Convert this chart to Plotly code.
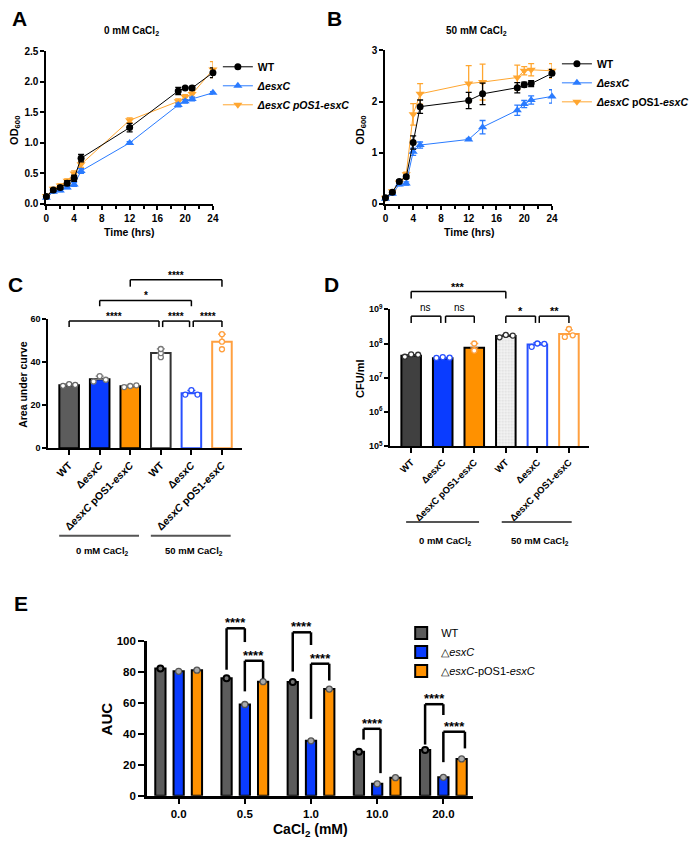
import numpy as np
import plotly.graph_objects as go

W, H = 695, 848
FONT = "Liberation Sans, Arial, Helvetica, sans-serif"

# ---------------- data ----------------
# Panel A: 0 mM CaCl2 growth curves
time_a = [0, 1, 2, 3, 4, 5, 12, 19, 20, 21, 24]
wt_a = [0.12, 0.23, 0.27, 0.34, 0.42, 0.75, 1.25, 1.85, 1.90, 1.90, 2.15]
wt_a_err = [0.02, 0.02, 0.03, 0.04, 0.05, 0.06, 0.07, 0.06, 0.02, 0.03, 0.08]
dex_a = [0.10, 0.20, 0.22, 0.27, 0.32, 0.54, 1.00, 1.62, 1.68, 1.72, 1.82]
dex_a_err = [0.01, 0.02, 0.02, 0.02, 0.03, 0.04, 0.02, 0.03, 0.03, 0.03, 0.02]
comp_a = [0.13, 0.25, 0.30, 0.38, 0.50, 0.65, 1.37, 1.68, 1.75, 1.80, 2.20]
comp_a_err = [0.01, 0.02, 0.03, 0.03, 0.04, 0.05, 0.04, 0.04, 0.04, 0.05, 0.13]

# Panel B: 50 mM CaCl2 growth curves
time_b = [0, 1, 2, 3, 4, 5, 12, 14, 19, 20, 21, 24]
wt_b = [0.12, 0.23, 0.44, 0.53, 1.20, 1.90, 2.02, 2.15, 2.27, 2.33, 2.35, 2.55]
wt_b_err = [0.01, 0.02, 0.03, 0.03, 0.13, 0.13, 0.16, 0.21, 0.10, 0.05, 0.06, 0.08]
dex_b = [0.10, 0.20, 0.38, 0.40, 1.02, 1.15, 1.26, 1.50, 1.83, 1.95, 2.03, 2.10]
dex_b_err = [0.01, 0.02, 0.02, 0.03, 0.07, 0.06, 0.02, 0.13, 0.10, 0.07, 0.08, 0.13]
comp_b = [0.12, 0.25, 0.42, 0.58, 1.75, 2.15, 2.35, 2.38, 2.47, 2.60, 2.62, 2.60]
comp_b_err = [0.01, 0.02, 0.03, 0.04, 0.21, 0.20, 0.35, 0.35, 0.24, 0.08, 0.12, 0.14]

# Panel C: area under curve
c_ticktext = ["WT", "Δ<i>esxC</i>", "Δ<i>esxC</i> pOS1-<i>esxC</i>",
              "WT", "Δ<i>esxC</i>", "Δ<i>esxC</i> pOS1-<i>esxC</i>"]
c_mean = [29.3, 32.0, 28.8, 44.2, 25.5, 49.5]
c_sd = [0.6, 1.5, 0.5, 2.0, 1.3, 3.5]
c_pts = [[29.0, 29.8, 29.4], [31.0, 33.5, 31.8], [28.4, 28.9, 29.2],
         [42.3, 44.2, 46.1], [24.9, 27.0, 24.9], [46.0, 49.5, 53.0]]

# Panel D: CFU/ml
d_ticktext = ["WT", "ΔesxC", "ΔesxC pOS1-esxC", "WT", "ΔesxC", "ΔesxC pOS1-esxC"]
d_mean = [4.4e7, 3.7e7, 7.5e7, 1.66e8, 9.4e7, 1.9e8]
d_sd = [3e6, 2e6, 2.5e7, 1.2e7, 1.2e7, 6.0e7]
d_pts = [[4.1e7, 4.8e7, 4.7e7], [3.8e7, 4.0e7, 3.85e7], [1.0e8, 6.3e7, 6.2e7],
         [1.52e8, 1.78e8, 1.70e8], [8.0e7, 1.0e8, 9.8e7], [2.65e8, 1.56e8, 1.74e8]]
group_labels = ["0 mM CaCl<sub>2</sub>", "50 mM CaCl<sub>2</sub>"]

# Panel E: AUC vs CaCl2
cacl2 = ["0.0", "0.5", "1.0", "10.0", "20.0"]
e_wt = [82.3, 76.0, 73.6, 28.5, 29.6]
e_dex = [80.5, 59.0, 35.5, 7.7, 11.9]
e_comp = [81.2, 73.8, 69.0, 11.7, 23.8]

# ---------------- helpers ----------------
def px_x(p):
    return p / W


def px_y(p):
    return 1 - p / H


def tf(size=10, bold=True):
    return dict(family=FONT, size=size, color="black", weight="bold" if bold else "normal")


def axis(domain, **kw):
    d = dict(domain=domain, showgrid=False, zeroline=False, showline=True,
             linecolor="black", linewidth=2, ticks="outside", ticklen=4,
             tickwidth=2, tickcolor="black", tickfont=tf(10))
    d.update(kw)
    return d


fig = go.Figure()
shapes = []
annots = []

BLUE_L = "#2a7bff"
ORANGE_L = "#ffa630"


def growth(xa, ya, leg, t, wt, wte, dx_, dxe, cp, cpe, comp_name):
    specs = [(comp_name, cp, cpe, ORANGE_L, "triangle-down", 8, 3),
             ("<i>ΔesxC</i>", dx_, dxe, BLUE_L, "triangle-up", 8, 2),
             ("WT", wt, wte, "black", "circle", 7, 1)]
    for name, y, e, c, sym, sz, rank in specs:
        fig.add_trace(go.Scatter(
            x=t, y=y, mode="lines+markers",
            error_y=dict(type="data", array=e, color=c, thickness=1.3, width=3),
            line=dict(color=c, width=1), marker=dict(symbol=sym, size=sz, color=c),
            name=name, legend=leg, legendrank=rank, xaxis=xa, yaxis=ya,
            cliponaxis=False))


growth("x", "y", "legend", time_a, wt_a, wt_a_err, dex_a, dex_a_err, comp_a, comp_a_err,
       "<i>ΔesxC pOS1-esxC</i>")
growth("x2", "y2", "legend2", time_b, wt_b, wt_b_err, dex_b, dex_b_err, comp_b, comp_b_err,
       "<i>ΔesxC</i> pOS1-<i>esxC</i>")

# ---- Panel C ----
C_XR = [-0.68, 5.64]
C_YR = [0, 60]
c_fill = ["#5c5c5c", "#0a3cff", "#ff9100", "white", "white", "white"]
c_edge = ["black", "black", "black", "#333333", "#2850ff", "#ffa040"]
c_ptc = ["#666666", "#777777", "#777777", "#777777", "#2850ff", "#ffa040"]
c_off = [[-0.2, 0.0, 0.2], [-0.2, 0.0, 0.2], [-0.2, 0.0, 0.2],
         [0.0, 0.0, 0.0], [-0.2, 0.0, 0.2], [0.0, 0.0, 0.0]]
for i in range(6):
    fig.add_trace(go.Bar(
        x=[i], y=[c_mean[i]], width=0.64,
        marker=dict(color=c_fill[i], line=dict(color=c_edge[i], width=2)),
        error_y=dict(type="data", symmetric=False, array=[c_sd[i]], arrayminus=[0],
                     color=c_ptc[i], thickness=1.3, width=4),
        xaxis="x3", yaxis="y3", showlegend=False))
    fig.add_trace(go.Scatter(
        x=[i + o for o in c_off[i]], y=c_pts[i], mode="markers",
        marker=dict(symbol="circle", size=5, color="white",
                    line=dict(color=c_ptc[i], width=1.3)),
        xaxis="x3", yaxis="y3", showlegend=False, cliponaxis=False))

# ---- Panel D ----
D_XR = [-0.66, 5.65]
D_YR = [5, 9]
d_fill = ["#404040", "#0a3cff", "#ff9100", "#f3f3f3", "white", "white"]
d_edge = ["black", "black", "black", "black", "#2850ff", "#ffa040"]
d_ptc = ["#333333", "#2850ff", "#ffa040", "#333333", "#2850ff", "#ffa040"]
d_off = [[-0.2, 0.0, 0.22], [-0.2, 0.0, 0.22], [0.0, 0.0, 0.0],
         [-0.2, 0.0, 0.22], [-0.18, 0.0, 0.22], [0.0, -0.13, 0.12]]
for i in range(6):
    mk = dict(color=d_fill[i], line=dict(color=d_edge[i], width=2))
    if i == 3:
        mk["pattern"] = dict(shape=".", fgcolor="#c4c4c4", bgcolor="#f4f4f4", size=3, solidity=0.35)
    fig.add_trace(go.Bar(
        x=[i], y=[d_mean[i]], width=0.62, marker=mk,
        error_y=dict(type="data", symmetric=False, array=[d_sd[i]], arrayminus=[0],
                     color=d_ptc[i], thickness=1.3, width=4),
        xaxis="x4", yaxis="y4", showlegend=False))
    fig.add_trace(go.Scatter(
        x=[i + o for o in d_off[i]], y=d_pts[i], mode="markers",
        marker=dict(symbol="circle", size=5, color="white",
                    line=dict(color=d_ptc[i], width=1.3)),
        xaxis="x4", yaxis="y4", showlegend=False, cliponaxis=False))

# ---- Panel E ----
E_XR = [-0.48, 4.45]
E_YR = [0, 100]
SLOT = 0.276
BW = 0.155
e_specs = [("WT", e_wt, "#5c5c5c", "black", "#777777", 2),
           ("△<i>esxC</i>", e_dex, "#0a3cff", "#555555", "#aaaaaa", 1.3),
           ("△<i>esxC</i>-pOS1-<i>esxC</i>", e_comp, "#ff9100", "#555555", "#aaaaaa", 1.3)]
for k, (name, vals, col, ptl, ptf, plw) in enumerate(e_specs):
    fig.add_trace(go.Bar(
        x=list(range(len(cacl2))), y=vals, width=BW, offset=(k - 1) * SLOT - BW / 2,
        marker=dict(color=col, line=dict(color="black", width=2)),
        name=name, legend="legend3", legendrank=k + 1, xaxis="x5", yaxis="y5"))
for k, (name, vals, col, ptl, ptf, plw) in enumerate(e_specs):
    fig.add_trace(go.Scatter(
        x=[i + (k - 1) * SLOT for i in range(len(cacl2))], y=vals, mode="markers",
        marker=dict(symbol="circle", size=6, color=ptf, line=dict(color=ptl, width=plw)),
        xaxis="x5", yaxis="y5", showlegend=False, cliponaxis=False))

# ---------------- brackets ----------------
def dom(v, r):
    return (v - r[0]) / (r[1] - r[0])


def bracket(xa, ya, xr, yr, x0, x1, ytop, yl, yrr, text, size, width, bold=True, ylog=False, tshift=3):
    f = (lambda v: dom(np.log10(v), yr)) if ylog else (lambda v: dom(v, yr))
    X0, X1 = dom(x0, xr), dom(x1, xr)
    T, L, R = f(ytop), f(yl), f(yrr)
    for (a, b, c, d) in [(X0, L, X0, T), (X0, T, X1, T), (X1, T, X1, R)]:
        shapes.append(dict(type="line", xref=xa + " domain", yref=ya + " domain",
                           x0=a, y0=b, x1=c, y1=d, line=dict(color="black", width=width)))
    annots.append(dict(text=text, xref=xa + " domain", yref=ya + " domain",
                       x=(X0 + X1) / 2, y=T, yanchor="bottom", xanchor="center",
                       yshift=-tshift if text.startswith("*") else 1,
                       showarrow=False, font=tf(size, bold)))


# C brackets (data units)
bracket("x3", "y3", C_XR, C_YR, 0, 2.94, 59.1, 56.3, 56.3, "****", 10, 1.5)
bracket("x3", "y3", C_XR, C_YR, 3.06, 3.94, 59.1, 56.3, 56.3, "****", 10, 1.5)
bracket("x3", "y3", C_XR, C_YR, 4.06, 5.0, 59.1, 56.3, 56.3, "****", 10, 1.5)
bracket("x3", "y3", C_XR, C_YR, 1.0, 4.0, 68.7, 66.0, 66.0, "*", 10, 1.5)
bracket("x3", "y3", C_XR, C_YR, 2.0, 5.0, 78.3, 75.1, 75.1, "****", 10, 1.5)

# D brackets (CFU/ml)
bracket("x4", "y4", D_XR, D_YR, 0, 3.0, 3.3e9, 2.07e9, 2.07e9, "***", 11, 1.5, ylog=True)
bracket("x4", "y4", D_XR, D_YR, 0, 0.94, 6.3e8, 4.0e8, 4.0e8, "ns", 10, 1.5, bold=False, ylog=True)
bracket("x4", "y4", D_XR, D_YR, 1.09, 2.0, 6.3e8, 4.0e8, 4.0e8, "ns", 10, 1.5, bold=False, ylog=True)
bracket("x4", "y4", D_XR, D_YR, 3.0, 3.94, 6.3e8, 4.0e8, 4.0e8, "*", 11, 1.5, ylog=True)
bracket("x4", "y4", D_XR, D_YR, 4.06, 5.0, 6.3e8, 4.0e8, 4.0e8, "**", 11, 1.5, ylog=True)

# E brackets
bracket("x5", "y5", E_XR, E_YR, 1 - SLOT, 1.0, 108.3, 81.5, 99.4, "****", 13, 2.5, tshift=4)
bracket("x5", "y5", E_XR, E_YR, 1.0, 1 + SLOT, 87.3, 67.5, 75.8, "****", 13, 2.5, tshift=4)
bracket("x5", "y5", E_XR, E_YR, 2 - SLOT, 2.0, 105.7, 80.3, 97.5, "****", 13, 2.5, tshift=4)
bracket("x5", "y5", E_XR, E_YR, 2.0, 2 + SLOT, 85.4, 49.7, 74.5, "****", 13, 2.5, tshift=4)
bracket("x5", "y5", E_XR, E_YR, 3 - SLOT + 0.07, 3.05, 43.3, 36.3, 14.6, "****", 13, 2.5, tshift=4)
bracket("x5", "y5", E_XR, E_YR, 4 - SLOT, 4.0, 59.2, 33.1, 52.2, "****", 13, 2.5, tshift=4)
bracket("x5", "y5", E_XR, E_YR, 4.0, 4 + SLOT + 0.05, 41.4, 21.7, 30.6, "****", 13, 2.5, tshift=4)

# group underlines for C and D
for (x0, x1, y, lab, ty) in [(57, 138, 537, group_labels[0], 552), (150, 231, 537, group_labels[1], 552),
                             (409, 483, 523, group_labels[0], 542), (506, 577, 523, group_labels[1], 542)]:
    shapes.append(dict(type="line", xref="paper", yref="paper", x0=px_x(x0), x1=px_x(x1),
                       y0=px_y(y), y1=px_y(y), line=dict(color="#555555", width=2)))
    annots.append(dict(text=lab, xref="paper", yref="paper", x=px_x((x0 + x1) / 2 + 3), y=px_y(ty),
                       xanchor="center", yanchor="middle",
                       showarrow=False, font=tf(9.5)))

# panel letters, titles, axis titles
def txt(t, x, y, size, bold=True, angle=0):
    annots.append(dict(text=t, xref="paper", yref="paper", x=px_x(x), y=px_y(y),
                       xanchor="center", yanchor="middle", showarrow=False,
                       textangle=angle, font=tf(size, bold)))


txt("A", 17, 12, 21)
txt("B", 336, 12, 21)
txt("C", 13, 282, 21)
txt("D", 333, 282, 21)
txt("E", 18, 606, 21)
txt("0 mM CaCl<sub>2</sub>", 130, 24, 10)
txt("50 mM CaCl<sub>2</sub>", 480, 24, 10)
txt("OD<sub>600</sub>", 12, 125, 11, angle=-90)
txt("OD<sub>600</sub>", 363, 125, 11, angle=-90)
txt("Time (hrs)", 128, 229, 10.5)
txt("Time (hrs)", 473, 229, 10.5)
txt("Area under curve", 20, 383, 10.5, angle=-90)
txt("CFU/ml", 362, 377, 11, angle=-90)
txt("AUC", 105, 723, 15, angle=-90)
txt("CaCl<sub>2</sub> (mM)", 312, 836, 14)

layout = dict(
    width=W, height=H, margin=dict(l=0, r=0, t=0, b=0),
    paper_bgcolor="white", plot_bgcolor="white", barmode="overlay",
    font=dict(family=FONT, color="black"),
    xaxis=axis([px_x(44), px_x(213)], range=[0, 24], tickvals=list(range(0, 25, 4)),
               anchor="y", minor=dict(dtick=2, tick0=0, ticks="outside", ticklen=3,
                                      tickwidth=1.5, tickcolor="black")),
    yaxis=axis([px_y(200), px_y(45)], range=[0, 2.5], dtick=0.5, tickformat=".1f", anchor="x"),
    xaxis2=axis([px_x(388), px_x(557)], range=[0, 24], tickvals=list(range(0, 25, 4)),
                anchor="y2", minor=dict(dtick=2, tick0=0, ticks="outside", ticklen=3,
                                        tickwidth=1.5, tickcolor="black")),
    yaxis2=axis([px_y(200), px_y(44)], range=[0, 3], dtick=1, anchor="x2"),
    xaxis3=axis([px_x(46), px_x(242)], range=C_XR, tickvals=list(range(6)), ticktext=c_ticktext,
                tickangle=-45, ticklen=5, anchor="y3", tickfont=tf(10.5)),
    yaxis3=axis([px_y(448), px_y(317)], range=C_YR, tickvals=[0, 20, 40, 60], anchor="x3",
                tickfont=tf(9)),
    xaxis4=axis([px_x(393), px_x(595)], range=D_XR, tickvals=list(range(6)), ticktext=d_ticktext,
                tickangle=-45, ticklen=5, anchor="y4", tickfont=tf(9.5)),
    yaxis4=axis([px_y(446), px_y(307)], type="log", range=D_YR,
                tickvals=[1e5, 1e6, 1e7, 1e8, 1e9],
                ticktext=["10<sup>5</sup>", "10<sup>6</sup>", "10<sup>7</sup>", "10<sup>8</sup>", "10<sup>9</sup>"],
                anchor="x4", tickfont=tf(9)),
    xaxis5=axis([px_x(146), px_x(477)], range=E_XR, tickvals=list(range(len(cacl2))), ticktext=cacl2,
                ticklen=6, anchor="y5", linewidth=2.5, tickfont=tf(11.5)),
    yaxis5=axis([px_y(801), px_y(644)], range=E_YR, dtick=20, anchor="x5", linewidth=2.5,
                ticklen=6, tickfont=tf(11.5)),
    legend=dict(x=px_x(218), y=px_y(46), xanchor="left", yanchor="top", bgcolor="rgba(0,0,0,0)",
                font=tf(10.5), tracegroupgap=0),
    legend2=dict(x=px_x(562), y=px_y(43), xanchor="left", yanchor="top", bgcolor="rgba(0,0,0,0)",
                 font=tf(10.5), tracegroupgap=0),
    legend3=dict(x=px_x(404), y=px_y(621), xanchor="left", yanchor="top", bgcolor="rgba(0,0,0,0)",
                 font=tf(11, bold=False), tracegroupgap=0),
    shapes=shapes, annotations=annots,
)
fig.update_layout(**layout)
fig.write_html("out.html")
